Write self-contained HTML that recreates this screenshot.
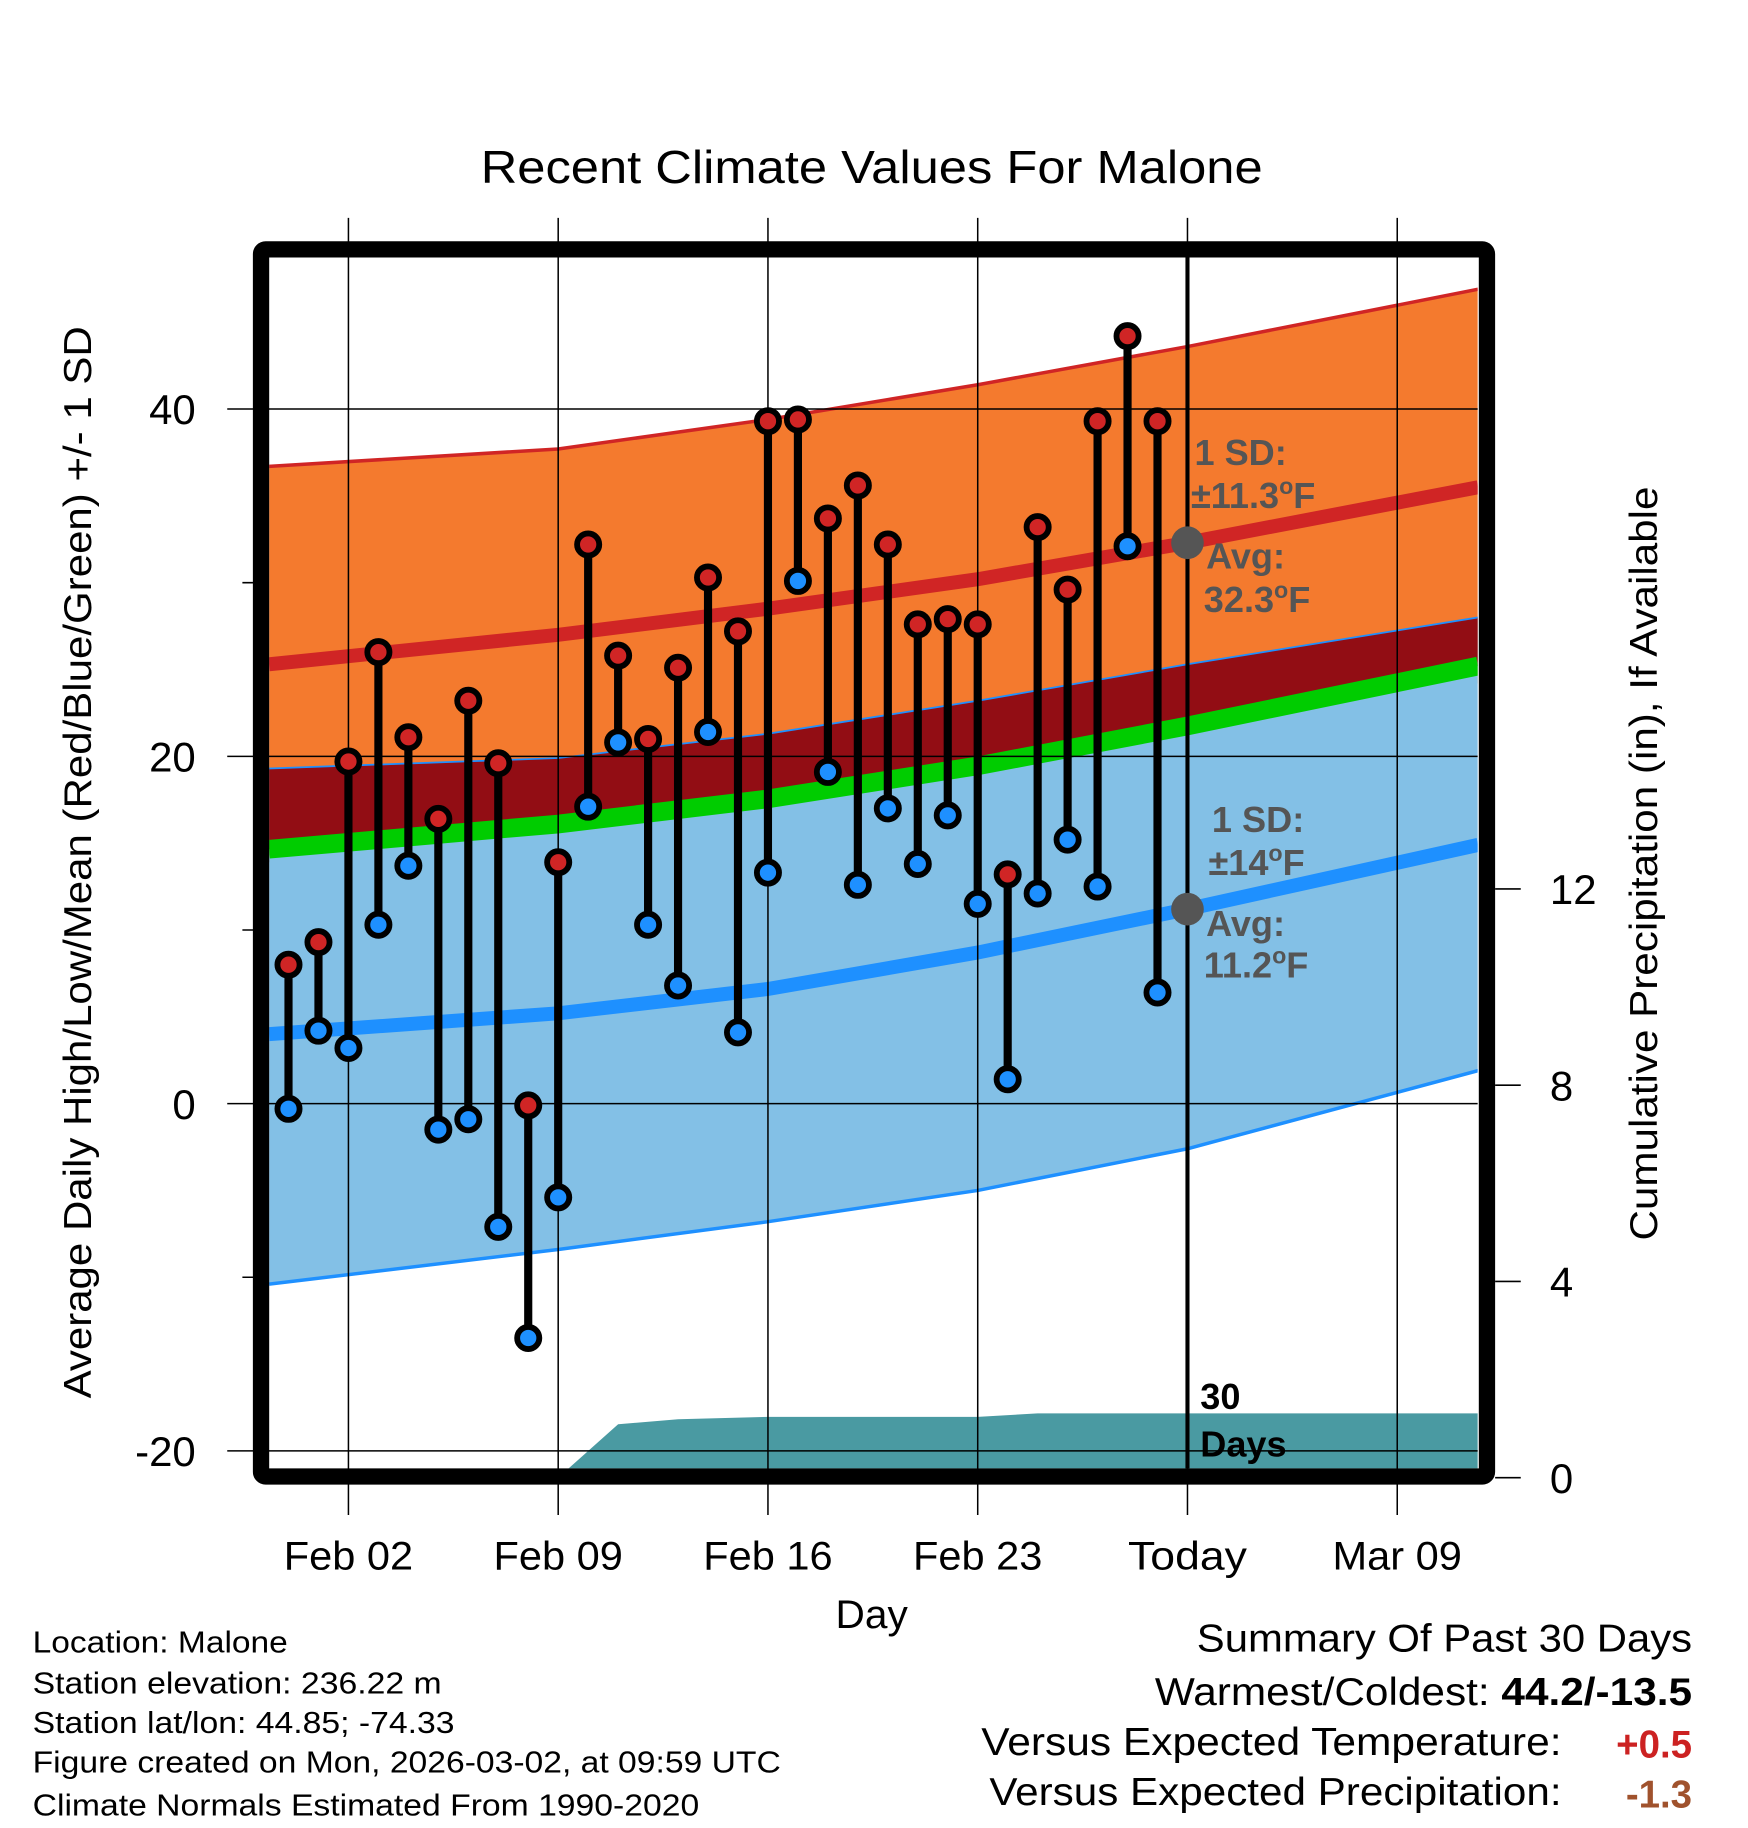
<!DOCTYPE html>
<html><head><meta charset="utf-8"><style>
html,body{margin:0;padding:0;background:#fff}
svg{display:block}
text{font-family:"Liberation Sans",Arial,sans-serif}
</style></head><body>
<svg id="chart" xmlns="http://www.w3.org/2000/svg" width="1748" height="1828" viewBox="0 0 1500 1568.6" preserveAspectRatio="none">
<defs><clipPath id="plotclip"><rect x="231" y="221" width="1037" height="1039"/></clipPath></defs>
<text x="748" y="157" text-anchor="middle" font-size="40" textLength="671" lengthAdjust="spacingAndGlyphs">Recent Climate Values For Malone</text>
<g id="bands" clip-path="url(#plotclip)"></g>
<g id="grid"></g>
<g id="marks"></g>
<g id="annot"></g>
<rect x="224" y="214" width="1052" height="1053" rx="4" fill="none" stroke="#000" stroke-width="14"/>
<g id="axes"></g>
<text x="748" y="1397" text-anchor="middle" font-size="34" textLength="62" lengthAdjust="spacingAndGlyphs">Day</text>
<text transform="translate(78,740) rotate(-90)" text-anchor="middle" font-size="33" textLength="920" lengthAdjust="spacingAndGlyphs">Average Daily High/Low/Mean (Red/Blue/Green) +/- 1 SD</text>
<text transform="translate(1422,741) rotate(-90)" text-anchor="middle" font-size="33" textLength="647" lengthAdjust="spacingAndGlyphs">Cumulative Precipitation (in), If Available</text>
<g font-size="26">
<text x="28" y="1418" textLength="219" lengthAdjust="spacingAndGlyphs">Location: Malone</text>
<text x="28" y="1453" textLength="351" lengthAdjust="spacingAndGlyphs">Station elevation: 236.22 m</text>
<text x="28" y="1487" textLength="362" lengthAdjust="spacingAndGlyphs">Station lat/lon: 44.85; -74.33</text>
<text x="28" y="1521" textLength="642" lengthAdjust="spacingAndGlyphs">Figure created on Mon, 2026-03-02, at 09:59 UTC</text>
<text x="28" y="1558" textLength="572" lengthAdjust="spacingAndGlyphs">Climate Normals Estimated From 1990-2020</text>
</g>
<g font-size="33">
<text x="1027" y="1417" textLength="425" lengthAdjust="spacingAndGlyphs">Summary Of Past 30 Days</text>
<text x="991" y="1463" textLength="461" lengthAdjust="spacingAndGlyphs">Warmest/Coldest: <tspan font-weight="bold">44.2/-13.5</tspan></text>
<text x="842" y="1506" textLength="498" lengthAdjust="spacingAndGlyphs">Versus Expected Temperature:</text>
<text x="1452" y="1508" text-anchor="end" font-weight="bold" fill="#cc2222">+0.5</text>
<text x="849" y="1549" textLength="491" lengthAdjust="spacingAndGlyphs">Versus Expected Precipitation:</text>
<text x="1452" y="1551" text-anchor="end" font-weight="bold" fill="#a0522d">-1.3</text>
</g>
</svg>
<script>
// ---- data ----
const normDays = [-2.65, 7, 14, 21, 28, 37.7]; // days since Feb 02
const highMean = [25.3, 27.0, 28.5, 30.2, 32.3, 35.5];
const highUpper = [36.7, 37.7, 39.4, 41.4, 43.6, 46.9];
const highLower = [13.9, 15.7, 17.6, 19.0, 21.0, 24.2];
const lowMean = [4.0, 5.2, 6.6, 8.7, 11.2, 14.9];
const lowUpper = [19.3, 19.9, 21.3, 23.2, 25.3, 28.0];
const lowLower = [-10.4, -8.4, -6.8, -5.0, -2.6, 1.9];
const obsHigh = [8.0,9.3,19.7,26.0,21.1,16.4,23.2,19.6,-0.1,13.9,32.2,25.8,21.0,25.1,30.3,27.2,39.3,39.4,33.7,35.6,32.2,27.6,27.9,27.6,13.2,33.2,29.6,39.3,44.2,39.3];
const obsLow = [-0.3,4.2,3.2,10.3,13.7,-1.5,-0.9,-7.1,-13.5,-5.4,17.1,20.8,10.3,6.8,21.4,4.1,13.3,30.1,19.1,12.6,17.0,13.8,16.6,11.5,1.4,12.1,15.2,12.5,32.1,6.4];
const obsStartDay = -2; // Jan 31
const precipDays = [7, 9, 11, 14, 21, 23, 28, 37.7];
const precipVals = [0, 1.09, 1.19, 1.24, 1.24, 1.31, 1.31, 1.31];
const xTickDays = [0, 7, 14, 21, 28, 35];
const xTickLabels = ["Feb 02","Feb 09","Feb 16","Feb 23","Today","Mar 09"];
const yTicks = [-20, 0, 20, 40];
const yMinor = [-10, 10, 30];
const pTicks = [0, 4, 8, 12];
const todayDay = 28;

// ---- scales ----
const X = d => 299 + d * 180 / 7;
const Y = v => 947 - v * 14.9;
const P = v => 1268 - v * 42.1;
const NS = "http://www.w3.org/2000/svg";
function mk(tag, attrs, parent) {
  const e = document.createElementNS(NS, tag);
  for (const k in attrs) e.setAttribute(k, attrs[k]);
  parent.appendChild(e);
  return e;
}
const bands = document.getElementById('bands');
const grid = document.getElementById('grid');
const marks = document.getElementById('marks');
const annot = document.getElementById('annot');
const axes = document.getElementById('axes');

function linePts(arr) { return normDays.map((d, i) => X(d) + ',' + Y(arr[i])); }
function bandPath(top, bot) {
  const a = linePts(top), b = linePts(bot).reverse();
  return 'M' + a.join('L') + 'L' + b.join('L') + 'Z';
}
const meanArr = highMean.map((h, i) => (h + lowMean[i]) / 2);

let e;
e = mk('path', {d: bandPath(highUpper, highLower), fill: '#f47a2e'}, bands);


e = mk('polyline', {points: linePts(highUpper).join(' '), fill: 'none', stroke: '#d02525', 'stroke-width': 3}, bands);


e = mk('path', {d: bandPath(lowUpper, lowLower), fill: '#83c0e6'}, bands);


e = mk('path', {d: bandPath(lowUpper, meanArr), fill: '#920d14'}, bands);


e = mk('polyline', {points: linePts(lowUpper).join(' '), fill: 'none', stroke: '#1e90ff', 'stroke-width': 1.5}, bands);


e = mk('polyline', {points: linePts(lowLower).join(' '), fill: 'none', stroke: '#1e90ff', 'stroke-width': 3}, bands);


e = mk('polyline', {points: linePts(meanArr).join(' '), fill: 'none', stroke: '#00cc00', 'stroke-width': 16}, bands);


e = mk('polyline', {points: linePts(highMean).join(' '), fill: 'none', stroke: '#d02525', 'stroke-width': 12}, bands);


e = mk('polyline', {points: linePts(lowMean).join(' '), fill: 'none', stroke: '#1e90ff', 'stroke-width': 12}, bands);


// precipitation
let pp = 'M' + X(precipDays[0]) + ',' + P(0);
precipDays.forEach((d, i) => { pp += 'L' + X(d) + ',' + P(precipVals[i]); });
pp += 'L' + X(precipDays[precipDays.length - 1]) + ',' + P(0) + 'Z';
e = mk('path', {d: pp, fill: '#4a9aa2'}, bands);



// grid
yTicks.forEach(v => {
  e = mk('line', {x1: 195, x2: 1268, y1: Y(v), y2: Y(v), stroke: '#000', 'stroke-width': 1.3}, grid);
  
  
  e = mk('text', {x: 168, y: Y(v) + 13, 'text-anchor': 'end', 'font-size': 36}, axes);
  e.textContent = v;
  
  
});
yMinor.forEach(v => {
  e = mk('line', {x1: 208, x2: 224, y1: Y(v), y2: Y(v), stroke: '#000', 'stroke-width': 1.3}, grid);
  
  
});
xTickDays.forEach((d, i) => {
  const isToday = d === todayDay;
  e = mk('line', {x1: X(d), x2: X(d), y1: 187, y2: 1300, stroke: '#000', 'stroke-width': 1.3}, grid);
  
  
  if (isToday) {
    e = mk('line', {x1: X(d), x2: X(d), y1: 221, y2: 1260, stroke: '#000', 'stroke-width': 3.5}, marks);
    
    
  }
  e = mk('text', {x: X(d), y: 1347, 'text-anchor': 'middle', 'font-size': 34, textLength: isToday ? 102 : 111, lengthAdjust: 'spacingAndGlyphs'}, axes);
  e.textContent = xTickLabels[i];
  
  
});
pTicks.forEach(v => {
  e = mk('line', {x1: 1283, x2: 1305, y1: P(v), y2: P(v), stroke: '#000', 'stroke-width': 1.3}, axes);
  
  
  e = mk('text', {x: 1330, y: P(v) + 13, 'text-anchor': 'start', 'font-size': 36}, axes);
  e.textContent = v;
  
  
});

// observations
obsHigh.forEach((h, i) => {
  const x = X(obsStartDay + i);
  e = mk('line', {x1: x, x2: x, y1: Y(h), y2: Y(obsLow[i]), stroke: '#000', 'stroke-width': 7}, marks);
  
  
});
obsHigh.forEach((h, i) => {
  const x = X(obsStartDay + i);
  e = mk('circle', {cx: x, cy: Y(h), r: 9.5, fill: '#d02525', stroke: '#000', 'stroke-width': 5}, marks);
  
  
  e = mk('circle', {cx: x, cy: Y(obsLow[i]), r: 9.5, fill: '#1e90ff', stroke: '#000', 'stroke-width': 5}, marks);
  
  
});

// annotations
const tx = X(todayDay);
const hAvg = highMean[4], lAvg = lowMean[4];
e = mk('circle', {cx: tx, cy: Y(hAvg), r: 14, fill: '#555'}, annot);


e = mk('circle', {cx: tx, cy: Y(lAvg), r: 14, fill: '#555'}, annot);


function lab(x, y, html, name, fill) {
  const t = mk('text', {x: x, y: y, 'font-size': 31, 'font-weight': 'bold', fill: fill || '#555'}, annot);
  t.innerHTML = html;
  
  
}
const deg = '<tspan font-size="20" dy="-12">o</tspan><tspan dy="12">F</tspan>';
lab(1025, 399, '1 SD:', 'high-sd-label');
lab(1022, 436, '±11.3' + deg, 'high-sd-value');
lab(1035, 488, 'Avg:', 'high-avg-label');
lab(1033, 525, '32.3' + deg, 'high-avg-value');
lab(1040, 714, '1 SD:', 'low-sd-label');
lab(1037, 751, '±14' + deg, 'low-sd-value');
lab(1035, 803, 'Avg:', 'low-avg-label');
lab(1033, 839, '11.2' + deg, 'low-avg-value');
lab(1030, 1209, '30', 'period-label', '#000');
lab(1030, 1250, 'Days', 'period-label-days', '#000');
</script>
</body></html>
